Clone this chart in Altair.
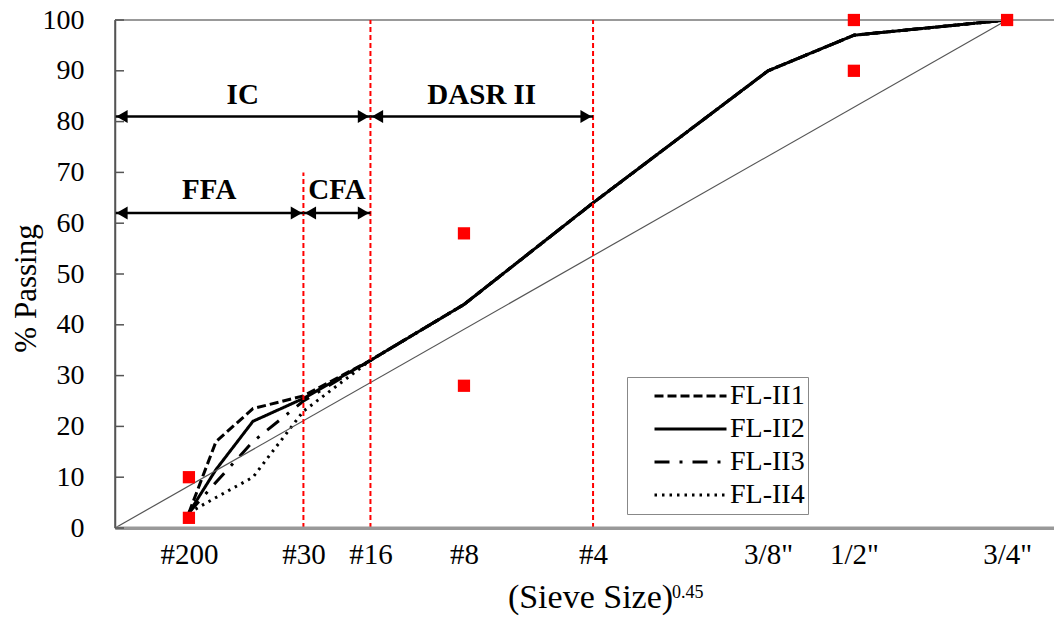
import altair as alt
import pandas as pd

# ---------------- data ----------------
sieve_labels = ["#200", "#100", "#50", "#30", "#16", "#8", "#4", '3/8"', '1/2"', '3/4"']
sieve_mm = [0.075, 0.15, 0.3, 0.6, 1.18, 2.36, 4.75, 9.5, 12.5, 19.0]

axis_labels = ["#200", "#30", "#16", "#8", "#4", '3/8"', '1/2"', '3/4"']
axis_mm = [0.075, 0.6, 1.18, 2.36, 4.75, 9.5, 12.5, 19.0]

series_names = ["FL-II1", "FL-II2", "FL-II3", "FL-II4"]
fl_ii1 = [3, 17, 23.5, 26, 33, 44, 64, 90, 97, 100]
fl_ii2 = [3, 11.5, 21, 25.5, 33, 44, 64, 90, 97, 100]
fl_ii3 = [3, 9, 17, 25, 33, 44, 64, 90, 97, 100]
fl_ii4 = [3, 6, 10, 23, 33, 44, 64, 90, 97, 100]

ctrl_mm = [0.075, 0.075, 2.36, 2.36, 12.5, 12.5, 19.0]
ctrl_pass = [2, 10, 28, 58, 90, 100, 100]

maxdens_mm = [0.0, 19.0]
maxdens_pass = [0, 100]

bound_mm = [0.6, 1.18, 4.75]
bound_top = [70, 100, 100]

arrow_labels = ["IC", "DASR II", "FFA", "CFA"]
arrow_from_mm = [0.0, 1.18, 0.0, 0.6]
arrow_to_mm = [1.18, 4.75, 0.6, 1.18]
arrow_y = [81, 81, 62, 62]
label_y = [85.2, 85.2, 66.5, 66.5]

y_ticks = list(range(0, 101, 10))

P = 0.45
FONT = "Liberation Serif"

# ---------------- tables ----------------
rows = []
for name, vals in zip(series_names, [fl_ii1, fl_ii2, fl_ii3, fl_ii4]):
    for i, (lab, mm, v) in enumerate(zip(sieve_labels, sieve_mm, vals)):
        rows.append({"series": name, "sieve": lab, "idx": i, "x": mm ** P, "y": v})
df_lines = pd.DataFrame(rows)

df_ctrl = pd.DataFrame({"x": [m ** P for m in ctrl_mm], "y": ctrl_pass})
df_md = pd.DataFrame({"x": [m ** P for m in maxdens_mm], "y": maxdens_pass})
df_bound = pd.DataFrame({"x": [m ** P for m in bound_mm], "y": [0] * 3, "y2": bound_top})
df_arrow = pd.DataFrame({
    "label": arrow_labels,
    "x": [m ** P for m in arrow_from_mm],
    "x2": [m ** P for m in arrow_to_mm],
    "y": arrow_y,
    "ly": label_y,
})
df_arrow["xm"] = (df_arrow["x"] + df_arrow["x2"]) / 2
df_ticks = pd.DataFrame({"y": y_ticks})

xvals = [round(m ** P, 6) for m in axis_mm]
# nested ternary label expression built from the label list
expr = "''"
for i in range(len(xvals) - 1, -1, -1):
    lab = axis_labels[i].replace('"', '\\"')
    if i == len(xvals) - 1:
        expr = f'"{lab}"'
    else:
        thr = (xvals[i] + xvals[i + 1]) / 2
        expr = f'(datum.value < {thr:.5f} ? "{lab}" : {expr})'
label_expr = expr

xscale = alt.Scale(domain=[0, 3.96], nice=False, zero=False)
yscale = alt.Scale(domain=[0, 100], nice=False)

X_AXIS = alt.Axis(
    values=xvals, labelExpr=label_expr, ticks=False, grid=False,
    labelFont=FONT, labelFontSize=29, labelColor="black", labelPadding=12,
    labelOverlap=False, labelFlush=False,
    domainColor="#999999", domainWidth=3,
    title="(Sieve Size)", titleFont=FONT, titleFontSize=34, titleFontWeight="normal",
    titleColor="black", titleX=475, titleY=79, titleAlign="center",
    titleBaseline="alphabetic",
)
Y_AXIS = alt.Axis(
    values=y_ticks, ticks=False, grid=False,
    labelFont=FONT, labelFontSize=28, labelColor="black", labelPadding=31,
    domainColor="#555555", domainWidth=1.5,
    title="% Passing", titleFont=FONT, titleFontSize=31, titleFontWeight="normal",
    titleColor="black", titleAngle=270, titleAlign="center", titleBaseline="bottom",
    titleX=-73, titleY=268,
)


def X(field="x"):
    return alt.X(f"{field}:Q", scale=xscale, axis=X_AXIS)


def Y(field="y"):
    return alt.Y(f"{field}:Q", scale=yscale, axis=Y_AXIS)


maxdens = alt.Chart(df_md).mark_line(color="#555555", strokeWidth=1.2).encode(x=X(), y=Y())

bounds = alt.Chart(df_bound).mark_rule(color="#ff0000", strokeWidth=2, strokeDash=[5, 3]).encode(
    x=X(), y=Y(), y2="y2:Q"
)

arrow_lines = alt.Chart(df_arrow).mark_rule(color="black", strokeWidth=2.5).encode(
    x=X(), x2="x2:Q", y=Y()
)
head_l = alt.Chart(df_arrow).mark_point(
    shape="triangle-left", filled=True, color="black", size=170, opacity=1, xOffset=7
).encode(x=X(), y=Y())
head_r = alt.Chart(df_arrow).mark_point(
    shape="triangle-right", filled=True, color="black", size=170, opacity=1, xOffset=-7
).encode(x=X("x2"), y=Y())
arrow_text = alt.Chart(df_arrow).mark_text(
    font=FONT, fontSize=29, fontWeight="bold", color="black", baseline="middle"
).encode(x=X("xm"), y=Y("ly"), text="label:N")

lines = alt.Chart(df_lines).mark_line(strokeWidth=3, color="black").encode(
    x=X(), y=Y(),
    strokeDash=alt.StrokeDash(
        "series:N",
        scale=alt.Scale(domain=series_names, range=[[9, 4], [1, 0], [15, 10, 3, 10], [2.5, 5]]),
        legend=alt.Legend(
            title=None, orient="none", legendX=512, legendY=357,
            symbolType="stroke", symbolSize=5184, symbolStrokeWidth=3, symbolStrokeColor="black",
            labelFont=FONT, labelFontSize=28, labelColor="black", labelOffset=2,
            strokeColor="#888888", padding=3, symbolOffset=23, rowPadding=1, clipHeight=32,
        ),
    ),
    order="idx:Q",
)

ctrl = alt.Chart(df_ctrl).mark_square(color="#ff0000", size=150, opacity=1).encode(x=X(), y=Y())

top_rule = alt.Chart(pd.DataFrame({"y": [100]})).mark_rule(color="#999999", strokeWidth=2).encode(y=Y())
bottom_rule = alt.Chart(pd.DataFrame({"y": [0]})).mark_rule(color="#999999", strokeWidth=3).encode(y=Y())
left_rule = alt.Chart(pd.DataFrame({"x": [0]})).mark_rule(color="#555555", strokeWidth=1.5).encode(x=X())

ticks = alt.Chart(df_ticks).mark_rule(color="#555555", strokeWidth=1.5).encode(
    y=Y(), x=alt.value(0), x2=alt.value(9)
)

sup = alt.Chart(pd.DataFrame({"t": ["0.45"]})).mark_text(
    font=FONT, fontSize=18, color="black", align="left", baseline="alphabetic"
).encode(x=alt.value(557), y=alt.value(578), text="t:N")

chart = alt.layer(
    lines, maxdens, top_rule, bounds, arrow_lines, head_l, head_r, arrow_text, ctrl,
    bottom_rule, left_rule, ticks, sup
).properties(
    width=939, height=508,
    padding={"left": 115, "top": 20, "right": 0, "bottom": 89},
    autosize=alt.AutoSizeParams(type="none"),
    background="white",
).configure_view(stroke=None)

chart.save("out.html", embed_options={"renderer": "svg", "actions": False})
